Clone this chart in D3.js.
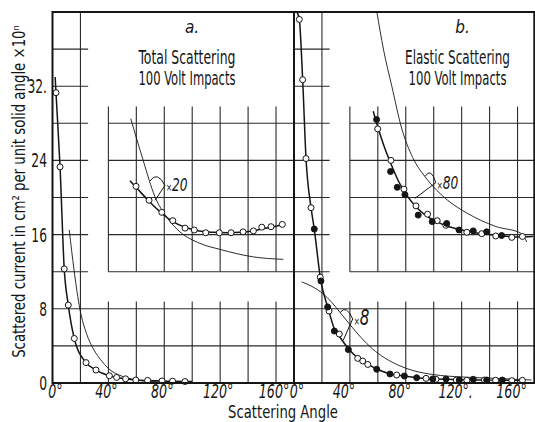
<!DOCTYPE html>
<html>
<head>
<meta charset="utf-8">
<script src="https://cdn.jsdelivr.net/npm/d3@7"></script>
<style>
  body { margin: 0; background: #fff; }
  svg text { font-family: "DejaVu Sans Condensed", "DejaVu Sans", sans-serif; fill: #151515; }
</style>
</head>
<body>
<script>
// values: angle in degrees, current in units of the y axis (x10^n)
const angleTicks = [0, 40, 80, 120, 160];
const angleTickLabelsA = ["0°", "40°", "80°", "120°", "160°"];
const angleTickLabelsB = ["0°", "40°", "80°", "120°.", "160°"];
const currentTicks = [0, 8, 16, 24, 32];
const currentTickLabels = ["0", "8", "16", "24", "32."];
const gridAngles = [40, 60, 80, 100, 120, 140, 160];
const stripRows = [12, 16, 20, 24, 28, 32, 36];
const insetRows = [12, 16, 20, 24, 28];
const lowerRows = [4, 8];

// a. total scattering, measured (open circles)
const totalAngle = [2.5, 5.4, 8.4, 11.3, 15.6, 24, 31.1, 40.7, 45.9, 52.3, 59.6, 68.1, 78.4, 85.9, 94.8];
const totalCurrent = [31.3, 23.3, 12.3, 8.4, 4.8, 2.2, 1.4, 0.78, 0.6, 0.45, 0.32, 0.28, 0.22, 0.2, 0.16];
// smooth curve drawn through them
const totalFitAngle = [1.9, 2.5, 5.4, 8.4, 11.3, 15.6, 24, 31.1, 40.7, 52.3, 59.6, 68.1, 78.4, 85.9, 94.8, 100];
const totalFitCurrent = [33, 31.3, 23.3, 12.3, 8.4, 4.8, 2.2, 1.4, 0.78, 0.45, 0.32, 0.26, 0.21, 0.19, 0.16, 0.15];
// thin comparison curve
const totalThinAngle = [12, 15.4, 19.7, 24.3, 29.7, 34.5, 39.9, 50.7, 60.3, 69.8, 79.1, 98];
const totalThinCurrent = [16.5, 12.2, 7.9, 5.35, 3.56, 2.5, 1.58, 0.68, 0.32, 0.16, 0.1, 0.05];

// a. inset, x20
const total20Angle = [59.8, 69.1, 78.2, 86.1, 94.9, 101.5, 109.7, 119.4, 127.8, 136.4, 143.8, 149.8, 156.4, 164.5];
const total20Current = [21.2, 19.7, 18.4, 17.5, 16.7, 16.5, 16.2, 16.2, 16.2, 16.3, 16.4, 16.8, 16.85, 17.1];
const total20FitAngle = [55.4, 59.8, 69.1, 78.2, 86.1, 94.9, 105, 115, 125, 135, 145, 155, 166.5];
const total20FitCurrent = [21.8, 21.1, 19.6, 18.3, 17.4, 16.8, 16.4, 16.25, 16.2, 16.25, 16.45, 16.75, 17.15];
const total20ThinAngle = [56, 64.9, 73.3, 81.7, 91.2, 105.5, 120, 143.7, 165.2];
const total20ThinCurrent = [28.5, 24.0, 20.1, 17.9, 16.3, 15.06, 14.4, 13.6, 13.33];

// b. elastic scattering, two runs (open and filled circles)
const elasticOpenAngle = [3.8, 6.2, 8.6, 12.2, 18.8, 25.1, 32.4, 45.6, 49.2, 52.8, 73.5, 94.5, 101.6, 116.2, 123.7, 136.3, 144.3, 155.9, 163.5];
const elasticOpenCurrent = [39.2, 32.7, 24.2, 18.9, 11.4, 7.76, 5.28, 2.66, 2.37, 2.0, 0.86, 0.5, 0.4, 0.32, 0.29, 0.32, 0.29, 0.25, 0.29];
const elasticFilledAngle = [14.5, 19.3, 24.1, 28.9, 38.9, 59.2, 68.7, 79, 87.8, 99.3, 108.8, 118.3, 128.3, 137.9, 149.1];
const elasticFilledCurrent = [16.6, 11.0, 8.2, 5.6, 3.6, 1.48, 0.97, 0.75, 0.57, 0.43, 0.43, 0.32, 0.4, 0.32, 0.32];
const elasticFitAngle = [2.1, 3.8, 6.2, 8.6, 12.2, 14.5, 19, 24.5, 29, 33, 39, 45.6, 53, 60, 69, 79, 90, 100, 110, 120, 140, 165];
const elasticFitCurrent = [40, 39.2, 32.7, 24.2, 18.9, 16.6, 11.2, 8.0, 5.8, 4.9, 3.7, 2.7, 2.0, 1.45, 0.97, 0.75, 0.55, 0.45, 0.4, 0.35, 0.31, 0.28];
const elasticThinAngle = [5.5, 13, 21, 27, 33, 40, 48, 56, 65, 75, 85, 100, 120, 145, 170];
const elasticThinCurrent = [10.9, 10.4, 9.6, 8.7, 7.6, 6.3, 4.9, 3.7, 2.7, 1.9, 1.35, 0.9, 0.65, 0.5, 0.32];

// b. inset, x80
const elastic80OpenAngle = [59.9, 69.4, 78.7, 87.3, 95.6, 102.5, 108.7, 123.7, 134.4, 144.4, 155.9, 163.5];
const elastic80OpenCurrent = [27.4, 24.0, 20.9, 19.1, 18.2, 17.5, 17.0, 16.25, 16.1, 15.85, 15.7, 15.8];
const elastic80FilledAngle = [59.1, 69.1, 73.9, 79.4, 88.9, 98.9, 109.3, 118.1, 128.3, 137.9, 148.6];
const elastic80FilledCurrent = [28.4, 22.8, 21.1, 20.3, 18.1, 17.4, 17.2, 16.5, 16.4, 16.3, 15.9];
const elastic80FitAngle = [56.7, 60, 65, 70, 75, 80, 88, 95, 102, 110, 120, 130, 140, 150, 160, 171];
const elastic80FitCurrent = [29.3, 27.6, 25.3, 23.4, 21.7, 20.4, 18.9, 18.0, 17.4, 16.9, 16.5, 16.2, 16.0, 15.85, 15.75, 15.8];
const elastic80ThinAngle = [59.3, 64, 70, 77, 85, 94, 102, 110, 124, 144, 163, 166.6];
const elastic80ThinCurrent = [40, 36, 32, 27.5, 24.3, 22.2, 20.8, 19.7, 18.3, 16.9, 16.1, 15.2];

const zip = (a, b) => a.map((v, i) => [v, b[i]]);

const width = 535, height = 422;
const svg = d3.select('body').append('svg')
    .attr('width', width)
    .attr('height', height);

const y = d3.scaleLinear().domain([0, 40]).range([383, 12]);
const xa = d3.scaleLinear().domain([0, 172.5]).range([52.5, 293.5]);
const xb = d3.scaleLinear().domain([0, 172.5]).range([294, 535]);
const ink = '#151515';

function grid(x) {
  const g = svg.append('g').attr('stroke', '#2a2a2a').attr('stroke-width', 1.1);
  g.selectAll(null).data(stripRows).enter().append('line')
      .attr('x1', x(0)).attr('x2', x(25.5))
      .attr('y1', d => y(d)).attr('y2', d => y(d));
  g.selectAll(null).data(insetRows).enter().append('line')
      .attr('x1', x(40)).attr('x2', x(172.5))
      .attr('y1', d => y(d)).attr('y2', d => y(d));
  g.selectAll(null).data(lowerRows).enter().append('line')
      .attr('x1', x(0)).attr('x2', x(172.5))
      .attr('y1', d => y(d)).attr('y2', d => y(d));
  g.append('line')
      .attr('x1', x(20)).attr('x2', x(20))
      .attr('y1', y(40)).attr('y2', y(0));
  g.selectAll(null).data(gridAngles).enter().append('line')
      .attr('x1', d => x(d)).attr('x2', d => x(d))
      .attr('y1', y(29.8)).attr('y2', y(12));
  g.selectAll(null).data(gridAngles).enter().append('line')
      .attr('x1', d => x(d)).attr('x2', d => x(d))
      .attr('y1', y(8.8)).attr('y2', y(0));
}

function curve(x, pts, w) {
  const line = d3.line().x(d => x(d[0])).y(d => y(d[1])).curve(d3.curveMonotoneX);
  svg.append('path')
      .attr('d', line(pts))
      .attr('fill', 'none')
      .attr('stroke', ink)
      .attr('stroke-width', w);
}

function dots(x, pts, filled) {
  svg.append('g').selectAll('circle')
    .data(pts)
    .enter().append('circle')
      .attr('cx', d => x(d[0]))
      .attr('cy', d => y(d[1]))
      .attr('r', 3)
      .attr('fill', filled ? ink : '#fff')
      .attr('stroke', ink)
      .attr('stroke-width', 1);
}

// brace linking the thin curve to the measured one, with its factor
function brace(x, thin, hump, end, thick, label, size) {
  svg.append('path')
      .attr('d', `M${x(thin[0])},${y(thin[1])} Q${x(hump[0])},${y(hump[1])} ${x(end[0])},${y(end[1])}` +
                 ` M${x(end[0])},${y(end[1])} L${x(thick[0])},${y(thick[1])}`)
      .attr('fill', 'none')
      .attr('stroke', ink)
      .attr('stroke-width', 1);
  const t = svg.append('text')
      .attr('transform', `translate(${x(end[0]) + 1},${y(end[1]) + 6}) scale(0.8,1)`)
      .attr('font-style', 'italic');
  t.append('tspan').attr('font-size', 10).text('×');
  t.append('tspan').attr('font-size', size).text(label);
}

// squeeze a text horizontally to the width the lettering takes in the original
function squeezed(str, size, w, place) {
  const t = svg.append('text')
      .attr('text-anchor', 'middle')
      .attr('font-size', size)
      .text(str);
  const s = w / t.node().getComputedTextLength();
  t.attr('transform', `${place} scale(${s},1)`);
  return t;
}

grid(xa);
grid(xb);

// panel a
curve(xa, zip(totalThinAngle, totalThinCurrent), 0.9);
curve(xa, zip(totalFitAngle, totalFitCurrent), 1.5);
dots(xa, zip(totalAngle, totalCurrent), false);
curve(xa, zip(total20ThinAngle, total20ThinCurrent), 0.9);
curve(xa, zip(total20FitAngle, total20FitCurrent), 1.5);
dots(xa, zip(total20Angle, total20Current), false);
brace(xa, [69.8, 21.8], [75, 22.9], [80.5, 21.3], [73.4, 19.7], '20', 17);

// panel b
curve(xb, zip(elasticThinAngle, elasticThinCurrent), 0.9);
curve(xb, zip(elasticFitAngle, elasticFitCurrent), 1.5);
dots(xb, zip(elasticOpenAngle, elasticOpenCurrent), false);
dots(xb, zip(elasticFilledAngle, elasticFilledCurrent), true);
curve(xb, zip(elastic80ThinAngle, elastic80ThinCurrent), 0.9);
curve(xb, zip(elastic80FitAngle, elastic80FitCurrent), 1.5);
dots(xb, zip(elastic80OpenAngle, elastic80OpenCurrent), false);
dots(xb, zip(elastic80FilledAngle, elastic80FilledCurrent), true);
brace(xb, [94, 22.3], [98, 23.3], [101.5, 21.6], [86.5, 19.9], '80', 17);
brace(xb, [33, 7.6], [37.5, 8.5], [42, 6.9], [35.2, 4.6], '8', 21);

// frame
svg.append('rect')
    .attr('x', xa(0)).attr('y', y(40))
    .attr('width', xb(172) - xa(0)).attr('height', y(0) - y(40))
    .attr('fill', 'none').attr('stroke', ink).attr('stroke-width', 2);
svg.append('line')
    .attr('x1', xb(0)).attr('x2', xb(0))
    .attr('y1', y(40)).attr('y2', y(0))
    .attr('stroke', ink).attr('stroke-width', 2);

// axis labels (hand lettering of the original is narrow, so squeeze glyphs)
svg.append('g').selectAll('text')
  .data(currentTicks)
  .enter().append('text')
    .attr('transform', d => `translate(47,${y(d) + 7}) scale(0.72,1)`)
    .attr('text-anchor', 'end')
    .attr('font-size', 19)
    .text((d, i) => currentTickLabels[i]);

[[xa, angleTickLabelsA, -2], [xb, angleTickLabelsB, -6]].forEach(([x, labels, shift]) => {
  svg.append('g').selectAll('text')
    .data(angleTicks)
    .enter().append('text')
      .attr('transform', d => `translate(${x(d) + (d === 0 ? 3 : shift)},398) scale(0.74,1)`)
      .attr('text-anchor', 'middle')
      .attr('font-size', 19)
      .attr('font-style', 'italic')
      .text((d, i) => labels[i]);
});

squeezed('Scattering Angle', 17, 110, 'translate(283,418)');
squeezed('Scattered current in cm² per unit solid angle ×10ⁿ', 17, 333, 'translate(25,191.5) rotate(-90)');

// panel titles
function title(cx, letter, l1, w1, l2, w2) {
  svg.append('text').attr('x', cx + 5).attr('y', 33)
      .attr('text-anchor', 'middle').attr('font-size', 17).attr('font-style', 'italic')
      .text(letter);
  squeezed(l1, 19, w1, `translate(${cx},64)`);
  squeezed(l2, 19, w2, `translate(${cx},85)`);
}
title(187, 'a.', 'Total Scattering', 97, '100 Volt Impacts', 97);
title(457.5, 'b.', 'Elastic Scattering', 105, '100 Volt Impacts', 98);
</script>
</body>
</html>
